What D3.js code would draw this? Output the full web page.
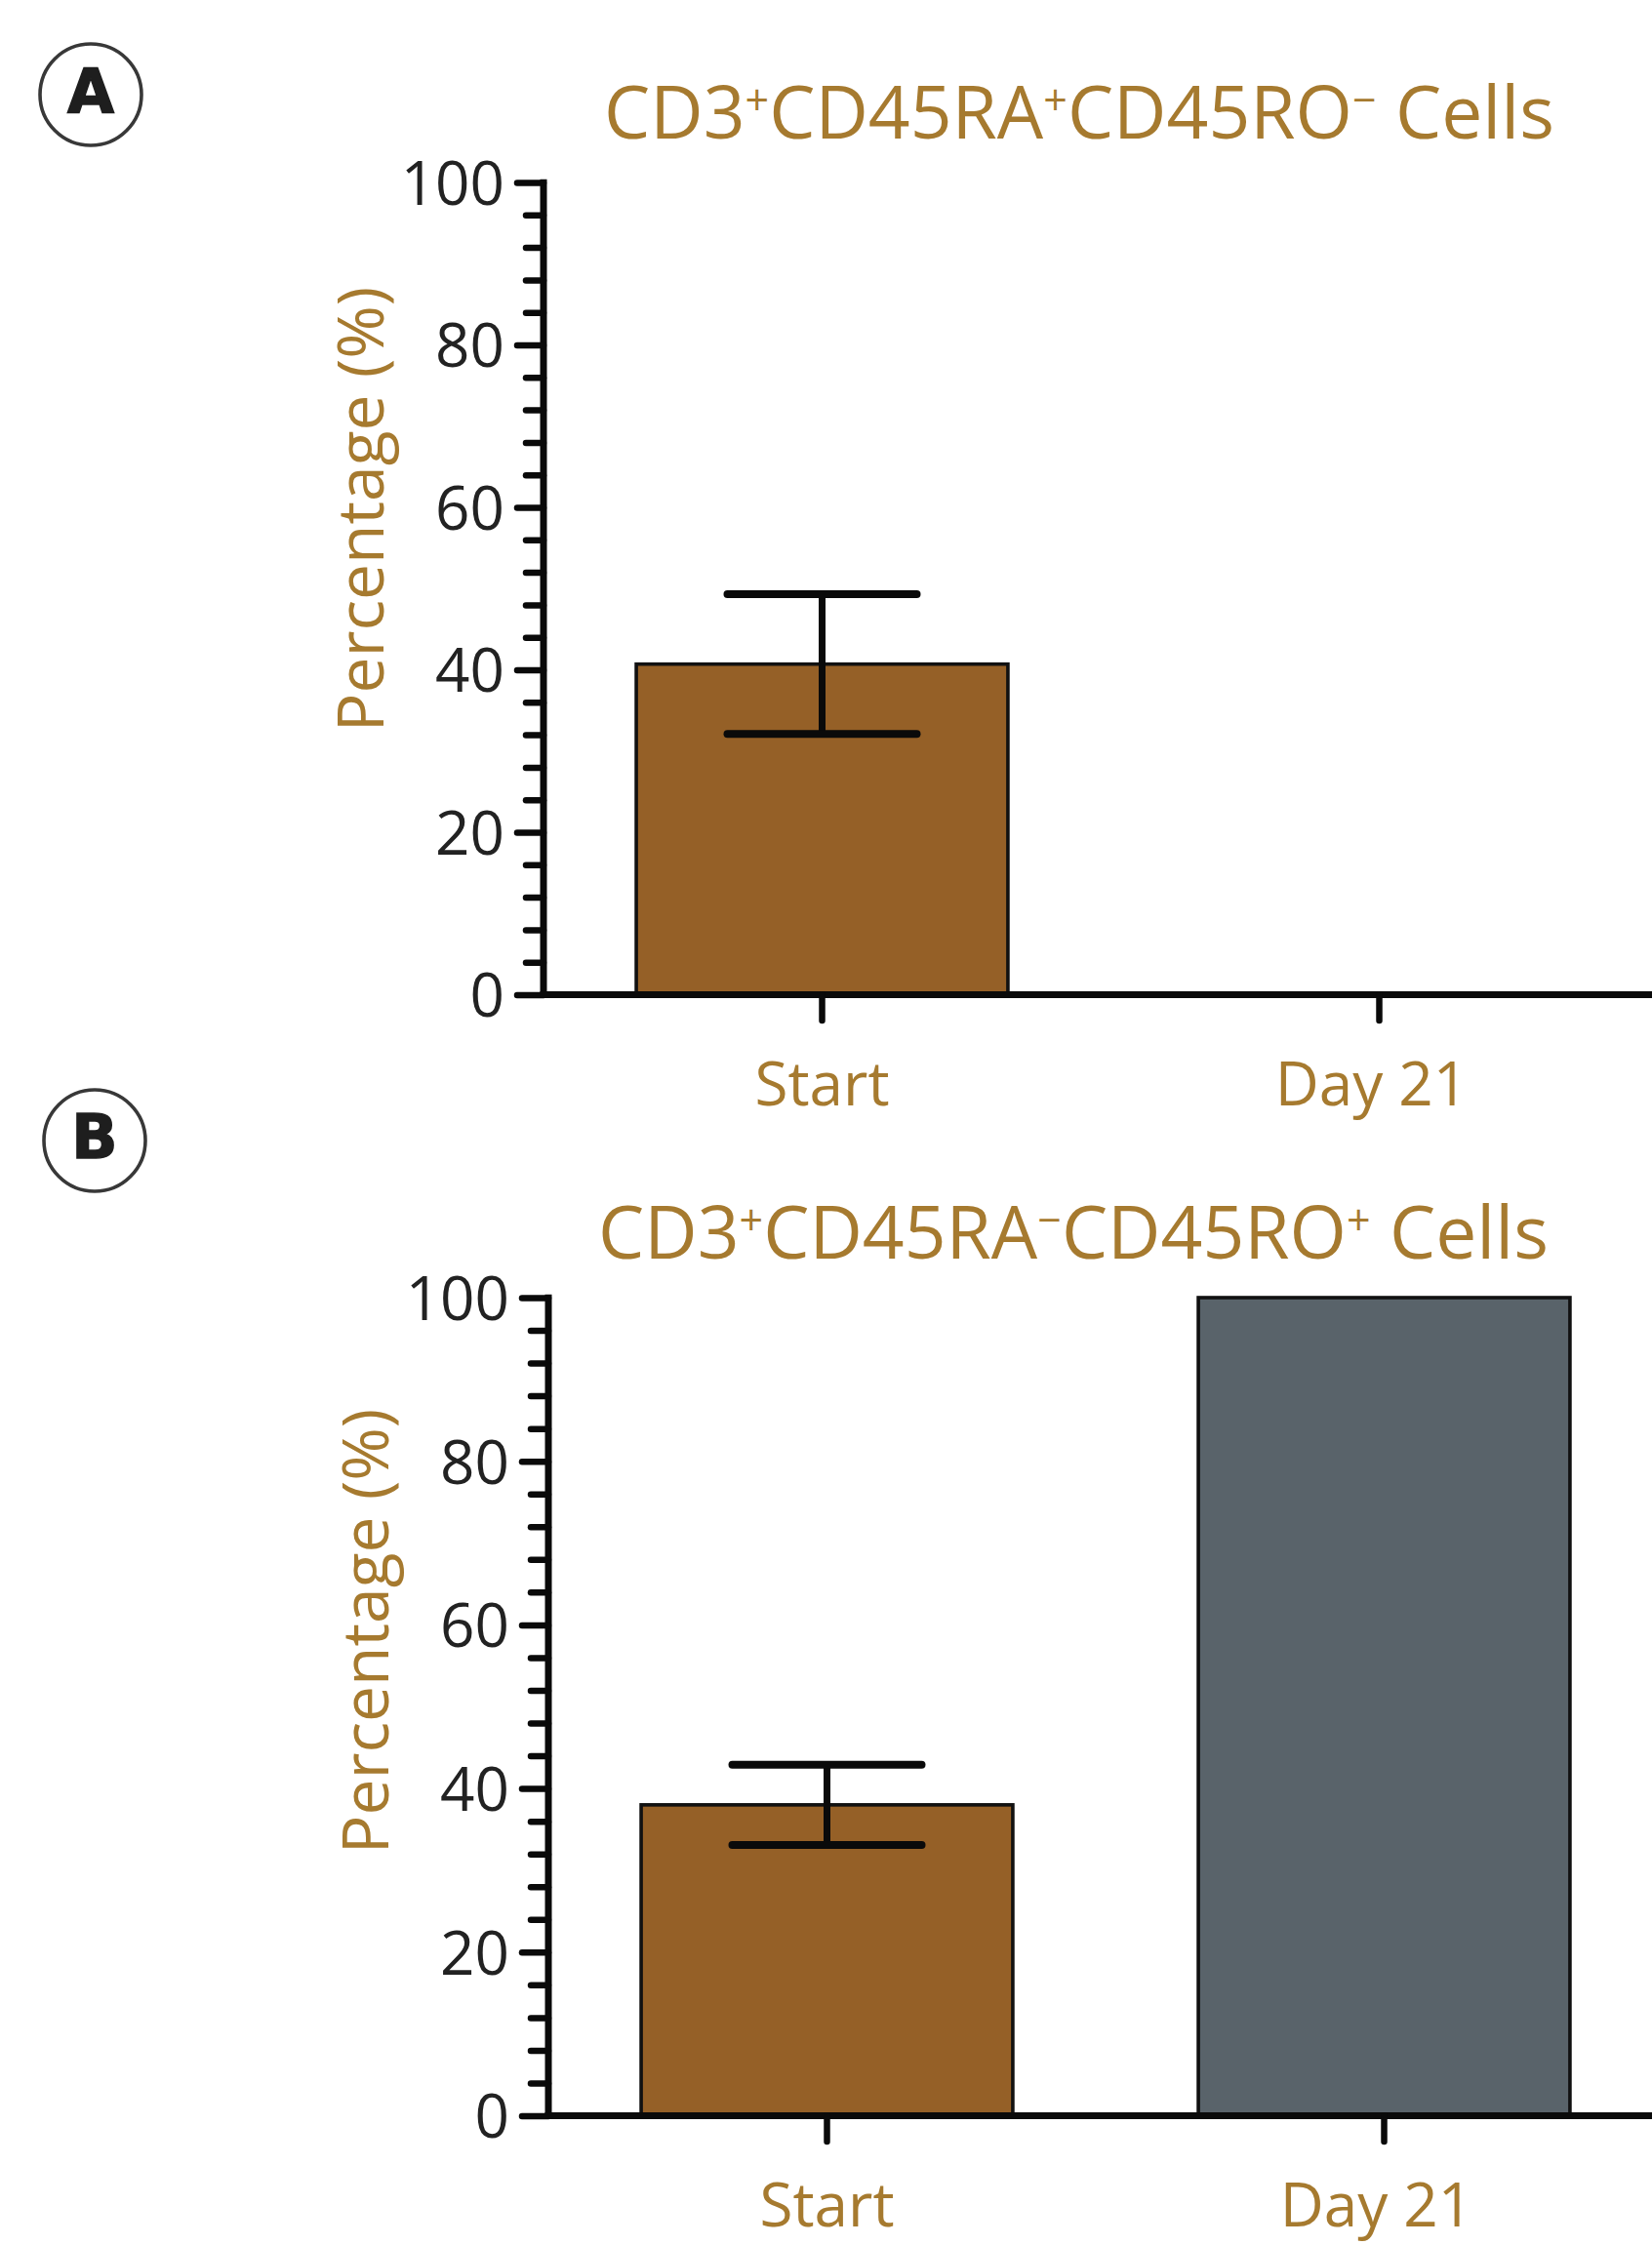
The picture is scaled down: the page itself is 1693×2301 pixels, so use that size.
<!DOCTYPE html>
<html>
<head>
<meta charset="utf-8">
<script src="https://cdn.jsdelivr.net/npm/d3@7"></script>
<style>
  html, body { margin: 0; padding: 0; background: #ffffff; }
  svg { display: block; }
  text { font-family: "Open Sans", "Noto Sans", sans-serif; }
</style>
</head>
<body>
<svg id="fig" width="1693" height="2301"></svg>
<script>
// ---- data ----
const categories = ["Start", "Day 21"];
const yTickValues = [0, 20, 40, 60, 80, 100];
const yMinorValues = d3.range(0, 101, 4).filter(v => v % 20 !== 0);

// Panel A: CD3+CD45RA+CD45RO- (naive) cells, mean and SD in percent
const naiveMean = [40.7, 0];
const naiveSD = [8.6, 0];
// Panel B: CD3+CD45RA-CD45RO+ (memory) cells, mean and SD in percent
const memoryMean = [38.0, 100];
const memorySD = [4.9, 0];

const panelLetters = ["A", "B"];
// title pieces: [text, isSuperscript]
const naiveTitle = [["CD3", false], ["+", true], ["CD45RA", false], ["+", true], ["CD45RO", false], ["\u2212", true], [" Cells", false]];
const memoryTitle = [["CD3", false], ["+", true], ["CD45RA", false], ["\u2212", true], ["CD45RO", false], ["+", true], [" Cells", false]];
const yAxisTitle = "Percentage (%)";

const barFill = ["#956027", "#59636a"];
const gold = "#a67a2f";
const ink = "#0a0a0a";

// ---- layout ----
const panels = [
  { letter: panelLetters[0], title: naiveTitle, mean: naiveMean, sd: naiveSD,
    axisX: 557, yBottom: 1019.5, yTop: 187, titleX: 1106, titleY: 142,
    circle: [93, 97], yTitleX: 393, yTitleY: 522 },
  { letter: panelLetters[1], title: memoryTitle, mean: memoryMean, sd: memorySD,
    axisX: 562, yBottom: 2168.5, yTop: 1330, titleX: 1100, titleY: 1290,
    circle: [97, 1169], yTitleX: 398, yTitleY: 1672 }
];

const svg = d3.select("#fig");
svg.append("rect").attr("width", 1693).attr("height", 2301).attr("fill", "#fff");

panels.forEach(p => {
  const g = svg.append("g");

  // panel letter in a circle
  g.append("circle")
    .attr("cx", p.circle[0]).attr("cy", p.circle[1]).attr("r", 52)
    .attr("fill", "none").attr("stroke", "#383838").attr("stroke-width", 3.6);
  g.append("text")
    .attr("x", p.circle[0]).attr("y", p.circle[1] + 18)
    .attr("text-anchor", "middle")
    .style("font-family", "'DejaVu Sans', sans-serif")
    .style("font-weight", 700).style("font-size", "62px")
    .attr("fill", "#1e1e1e").attr("stroke", "#1e1e1e").attr("stroke-width", 1.5)
    .text(p.letter);

  // scales
  const x = d3.scaleBand()
    .domain(categories)
    .range([p.axisX, p.axisX + 2 * 571])
    .paddingInner(0.333)
    .paddingOuter(0.1665);
  const y = d3.scaleLinear().domain([0, 100]).range([p.yBottom, p.yTop]);

  // bars
  g.selectAll("rect.bar")
    .data(categories.map((c, i) => ({ c, v: p.mean[i], i })).filter(d => d.v > 0))
    .join("rect")
    .attr("class", "bar")
    .attr("x", d => x(d.c))
    .attr("width", x.bandwidth())
    .attr("y", d => y(d.v))
    .attr("height", d => y(0) - y(d.v))
    .attr("fill", d => barFill[d.i])
    .attr("stroke", "#111").attr("stroke-width", 3.6);

  // error bars (mean ± SD)
  const capHalf = 97;
  const err = categories.map((c, i) => ({ c, v: p.mean[i], s: p.sd[i] })).filter(d => d.s > 0);
  err.forEach(d => {
    const cx = x(d.c) + x.bandwidth() / 2;
    g.append("line")
      .attr("x1", cx).attr("x2", cx)
      .attr("y1", y(d.v + d.s)).attr("y2", y(d.v - d.s))
      .attr("stroke", ink).attr("stroke-width", 7);
    [d.v + d.s, d.v - d.s].forEach(v => {
      g.append("line")
        .attr("x1", cx - capHalf).attr("x2", cx + capHalf)
        .attr("y1", y(v)).attr("y2", y(v))
        .attr("stroke", ink).attr("stroke-width", 8).attr("stroke-linecap", "round");
    });
  });

  // y axis: minor ticks
  g.append("g")
    .attr("transform", `translate(${p.axisX},0)`)
    .call(d3.axisLeft(y).tickValues(yMinorValues).tickSize(18).tickSizeOuter(0).tickFormat(""))
    .call(a => a.select(".domain").remove())
    .call(a => a.selectAll(".tick line").attr("stroke", ink).attr("stroke-width", 6.5).attr("stroke-linecap", "round"));

  // y axis: major ticks and labels
  g.append("g")
    .attr("transform", `translate(${p.axisX},0)`)
    .call(d3.axisLeft(y).tickValues(yTickValues).tickSize(27).tickSizeOuter(0).tickPadding(13))
    .call(a => a.select(".domain").attr("stroke", ink).attr("stroke-width", 7)
      .attr("d", `M0,${p.yTop - 3.25}V${p.yBottom}`))
    .call(a => a.selectAll(".tick line").attr("stroke", ink).attr("stroke-width", 6.5).attr("stroke-linecap", "round"))
    .call(a => a.selectAll(".tick text")
      .attr("fill", "#222").attr("dy", "0.36em")
      .style("font-family", "'Open Sans', sans-serif").style("font-size", "62px"));

  // x axis
  g.append("g")
    .attr("transform", `translate(0,${p.yBottom})`)
    .call(d3.axisBottom(x).tickSize(26.5).tickSizeOuter(0))
    .call(a => a.select(".domain").attr("stroke", ink).attr("stroke-width", 7)
      .attr("d", `M${p.axisX - 3.5},0H1700`))
    .call(a => a.selectAll(".tick line").attr("stroke", ink).attr("stroke-width", 6.5).attr("stroke-linecap", "round"))
    .call(a => a.selectAll(".tick text")
      .attr("fill", gold).attr("y", 113.5).attr("dy", 0)
      .attr("dx", d => d === "Day 21" ? -8 : 0)
      .style("font-family", "'Open Sans', sans-serif").style("font-size", "62px"));

  // y-axis title
  g.append("text")
    .attr("transform", `translate(${p.yTitleX},${p.yTitleY}) rotate(-90)`)
    .attr("text-anchor", "middle")
    .attr("fill", gold)
    .style("font-size", "66px")
    .text(yAxisTitle);

  // panel title with superscripts
  const t = g.append("text")
    .attr("x", p.titleX).attr("y", p.titleY)
    .attr("text-anchor", "middle")
    .attr("fill", gold)
    .style("font-size", "75px");
  let raised = false;
  p.title.forEach(([s, sup]) => {
    const ts = t.append("tspan").text(s);
    if (sup && !raised) { ts.attr("dy", -24).style("font-size", "43px"); raised = true; }
    else if (sup) { ts.style("font-size", "43px"); }
    else if (raised) { ts.attr("dy", 24); raised = false; }
  });
});
</script>
</body>
</html>
